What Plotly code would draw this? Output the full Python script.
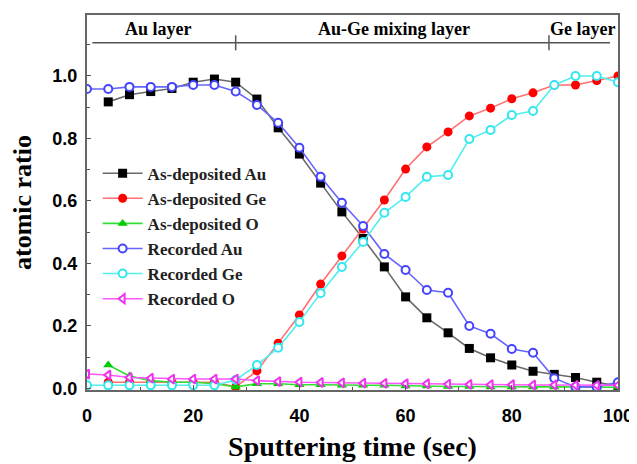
import plotly.graph_objects as go

# ---- data ----
x_dep = [4, 8, 12, 16, 20, 24, 28, 32, 36, 40, 44, 48, 52, 56, 60, 64, 68, 72, 76, 80, 84, 88, 92, 96, 100]
x_rec = [0, 4, 8, 12, 16, 20, 24, 28, 32, 36, 40, 44, 48, 52, 56, 60, 64, 68, 72, 76, 80, 84, 88, 92, 96, 100]

dep_au = [0.917, 0.94, 0.95, 0.96, 0.98, 0.99, 0.98, 0.926, 0.834, 0.75, 0.657, 0.565, 0.48, 0.389,
          0.293, 0.226, 0.178, 0.128, 0.098, 0.075, 0.055, 0.045, 0.035, 0.02, 0.008]
dep_ge = [0.02, 0.02, 0.02, 0.02, 0.02, 0.02, 0.005, 0.056, 0.145, 0.235, 0.334, 0.424, 0.51, 0.603,
          0.702, 0.773, 0.821, 0.872, 0.897, 0.927, 0.946, 0.971, 0.971, 0.985, 1.0]
dep_o = [0.075, 0.04, 0.025, 0.02, 0.02, 0.015, 0.005, 0.015, 0.015, 0.012, 0.012, 0.01, 0.01, 0.01,
         0.008, 0.008, 0.006, 0.006, 0.005, 0.005, 0.005, 0.005, 0.004, 0.004, 0.004]
rec_au = [0.958, 0.958, 0.965, 0.965, 0.965, 0.971, 0.971, 0.95, 0.907, 0.85, 0.77, 0.677, 0.594, 0.52,
          0.43, 0.379, 0.315, 0.306, 0.2, 0.175, 0.126, 0.114, 0.033, 0.005, 0.005, 0.02]
rec_ge = [0.01, 0.01, 0.01, 0.01, 0.01, 0.01, 0.01, 0.027, 0.075, 0.13, 0.213, 0.305, 0.389, 0.469,
          0.562, 0.613, 0.677, 0.683, 0.798, 0.827, 0.875, 0.888, 0.971, 1.0, 1.0, 0.98]
rec_o = [0.046, 0.043, 0.035, 0.033, 0.03, 0.03, 0.03, 0.03, 0.025, 0.022, 0.02, 0.019, 0.018, 0.017,
         0.016, 0.015, 0.015, 0.014, 0.013, 0.012, 0.012, 0.011, 0.011, 0.01, 0.01, 0.01]

layer_bounds = [28, 87]
layer_labels = ["Au layer", "Au-Ge mixing layer", "Ge layer"]
layer_label_x = [13.4, 57.8, 93.3]

y_ticks = [0.0, 0.2, 0.4, 0.6, 0.8, 1.0]
x_ticks = [0, 20, 40, 60, 80, 100]

SERIF = "Liberation Serif"
SANS = "Liberation Sans"

fig = go.Figure()

def add(name, x, y, line_color, marker_color, symbol, open_marker=False):
    if open_marker:
        marker = dict(symbol=symbol, size=8, color="white",
                      line=dict(color=marker_color, width=2))
    else:
        marker = dict(symbol=symbol, size=9, color=marker_color,
                      line=dict(color=marker_color, width=0))
    fig.add_trace(go.Scatter(x=x, y=y, name=name, mode="lines+markers",
                             line=dict(color=line_color, width=1.6),
                             marker=marker))

add("As-deposited Au", x_dep, dep_au, "#6a6a6a", "black", "square")
add("As-deposited Ge", x_dep, dep_ge, "#ff7070", "red", "circle")
add("As-deposited O", x_dep, dep_o, "#33dd33", "#00cc00", "triangle-up")
add("Recorded Au", x_rec, rec_au, "#6666ff", "#4444ff", "circle", True)
add("Recorded Ge", x_rec, rec_ge, "#55eeee", "#33e6f0", "circle", True)
add("Recorded O", x_rec, rec_o, "#ff55ff", "#ee33ee", "triangle-left", True)

# layer annotation line and dividers
fig.add_shape(type="line", xref="x", yref="y", x0=1, x1=98.5, y0=1.106, y1=1.106,
              line=dict(color="#555555", width=1.5))
for b in layer_bounds:
    fig.add_shape(type="line", xref="x", yref="y", x0=b, x1=b, y0=1.082, y1=1.13,
                  line=dict(color="#555555", width=1.5))
for lbl, lx in zip(layer_labels, layer_label_x):
    fig.add_annotation(x=lx, y=1.15, xref="x", yref="y", text=lbl, showarrow=False,
                       font=dict(family=SERIF, size=18, color="black", weight="bold"))

# the page body adds an 8px offset, so the figure is 8px smaller and margins shifted
fig.update_layout(
    width=629, height=456,
    margin=dict(l=79, r=19, t=7, b=74),
    paper_bgcolor="white", plot_bgcolor="white",
    showlegend=True,
    legend=dict(x=0.02, y=0.625, xanchor="left", yanchor="top",
                bgcolor="rgba(0,0,0,0)",
                font=dict(family=SERIF, size=17, color="#222", weight="bold"),
                itemwidth=40, tracegroupgap=0),
)
fig.update_xaxes(range=[0, 100], tickvals=x_ticks, ticktext=[str(v) for v in x_ticks],
                 showgrid=False, zeroline=False, automargin=False,
                 showline=True, linecolor="#666666", linewidth=2, mirror=True,
                 ticks="inside", ticklen=5, tickcolor="#555555",
                 minor=dict(dtick=10, ticks="inside", ticklen=3, tickcolor="#555555"),
                 ticklabelstandoff=8,
                 tickfont=dict(family=SANS, size=18, color="black", weight="bold"),
                 title=dict(text="Sputtering time (sec)", standoff=12,
                            font=dict(family=SERIF, size=28, color="black", weight="bold")))
fig.update_yaxes(range=[-0.005, 1.195], tickvals=y_ticks,
                 ticktext=["%.1f" % v for v in y_ticks],
                 showgrid=False, zeroline=False, automargin=False,
                 showline=True, linecolor="#666666", linewidth=2, mirror=True,
                 ticks="inside", ticklen=4, tickcolor="#555555",
                 minor=dict(dtick=0.1, ticks="inside", ticklen=3, tickcolor="#555555"),
                 ticklabelstandoff=4,
                 tickfont=dict(family=SANS, size=18, color="black", weight="bold"),
                 title=dict(text="atomic ratio", standoff=14,
                            font=dict(family=SERIF, size=26, color="black", weight="bold")))

fig.write_html("out.html")
